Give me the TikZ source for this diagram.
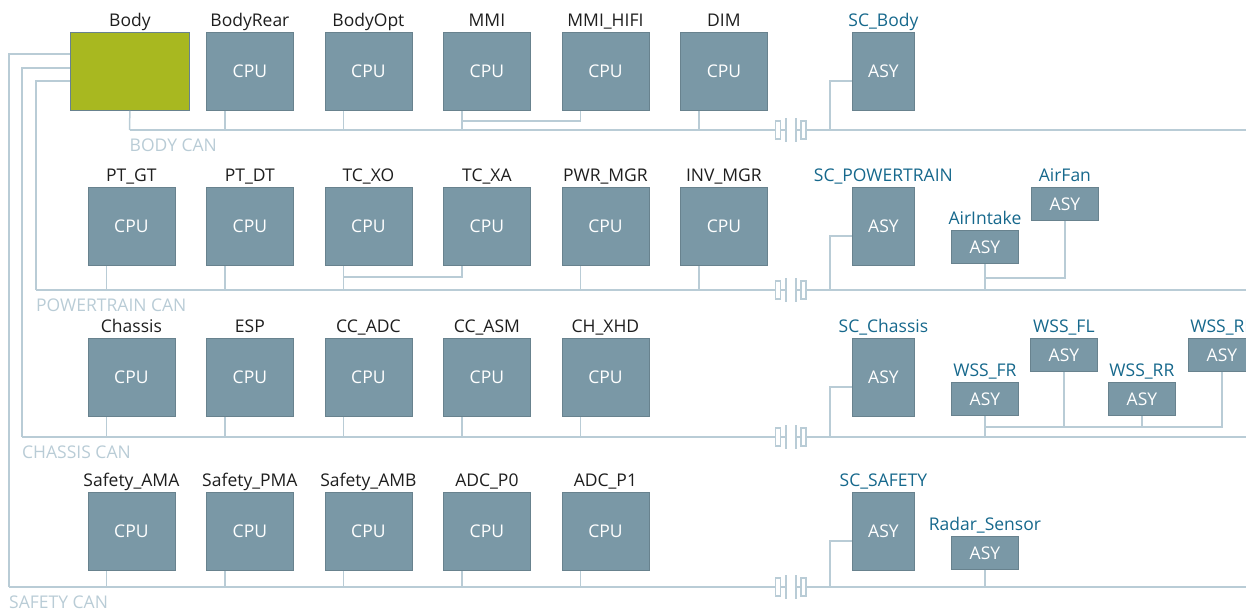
\documentclass[tikz,border=0pt]{standalone}
\usepackage{fontspec}
\setmainfont{Open Sans}
\usepackage{tikz}
\usetikzlibrary{positioning}
\definecolor{ecufill}{RGB}{122,152,166}
\definecolor{ecuedge}{RGB}{104,130,142}
\definecolor{masterfill}{RGB}{168,184,32}
\definecolor{canline}{RGB}{185,204,214}
\definecolor{sclabel}{RGB}{22,104,140}
\definecolor{ink}{RGB}{30,30,30}

\begin{document}
\begin{tikzpicture}[
  x=1pt, y=-1pt,
  font=\fontsize{17.5}{20}\selectfont,
  ecubox/.style={draw=ecuedge, fill=ecufill, text=white, line width=0.8pt, minimum width=87pt, minimum height=78pt, inner sep=0pt, anchor=north west},
  asybox/.style={ecubox, minimum width=62pt},
  sensorbox/.style={ecubox, minimum width=67pt, minimum height=33pt},
  ecuname/.style={text=ink, inner sep=0pt, text depth=0pt},
  scname/.style={ecuname, text=sclabel},
  wire/.style={draw=canline, line width=1.5pt},
  plug/.style={draw=canline, line width=1.2pt, fill=white, minimum width=5pt, minimum height=18pt, inner sep=0pt},
  canname/.style={text=canline, anchor=base west, inner sep=0pt},
  label distance=5pt
]
\path[use as bounding box, clip] (0,0) rectangle (1246,613);
% Row 1: body ECUs
\node[ecubox, fill=masterfill, minimum width=119pt, label={[ecuname]above:Body}] (body) at (70,32) {};
\foreach \lbl/\id [count=\c] in {BodyRear/bodyrear, BodyOpt/bodyopt, MMI/mmi, MMI\_HIFI/mmihifi, DIM/dim} {
  \node[ecubox, label={[ecuname]above:\lbl}] (\id) at (87.5+\c*118.5,32) {CPU};
}
\node[asybox, label={[scname]above:SC\_Body}] (scbody) at (852,32) {ASY};
% Row 2: powertrain ECUs
\foreach \lbl/\id [count=\c] in {PT\_GT/ptgt, PT\_DT/ptdt, TC\_XO/tcxo, TC\_XA/tcxa, PWR\_MGR/pwrmgr, INV\_MGR/invmgr} {
  \node[ecubox, label={[ecuname]above:\lbl}] (\id) at (-31+\c*118.5,187) {CPU};
}
\node[asybox, label={[scname]above:SC\_POWERTRAIN}] (scpt) at (852,187) {ASY};
\node[sensorbox, label={[scname]above:AirIntake}] (airintake) at (951,230) {ASY};
\node[sensorbox, label={[scname]above:AirFan}] (airfan) at (1031,187) {ASY};
% Row 3: chassis ECUs
\foreach \lbl/\id [count=\c] in {Chassis/chassis, ESP/esp, CC\_ADC/ccadc, CC\_ASM/ccasm, CH\_XHD/chxhd} {
  \node[ecubox, label={[ecuname]above:\lbl}] (\id) at (-31+\c*118.5,338) {CPU};
}
\node[asybox, label={[scname]above:SC\_Chassis}] (scch) at (852,338) {ASY};
\node[sensorbox, label={[scname]above:WSS\_FR}] (wssfr) at (951,382) {ASY};
\node[sensorbox, label={[scname]above:WSS\_FL}] (wssfl) at (1030,338) {ASY};
\node[sensorbox, label={[scname]above:WSS\_RR}] (wssrr) at (1108,382) {ASY};
\node[sensorbox, label={[scname]above:WSS\_RL}] (wssrl) at (1188,338) {ASY};
% Row 4: safety ECUs
\foreach \lbl/\id [count=\c] in {Safety\_AMA/sfama, Safety\_PMA/sfpma, Safety\_AMB/sfamb, ADC\_P0/adcp0, ADC\_P1/adcp1} {
  \node[ecubox, label={[ecuname]above:\lbl}] (\id) at (-31+\c*118.5,492) {CPU};
}
\node[asybox, label={[scname]above:SC\_SAFETY}] (scsf) at (852,492) {ASY};
\node[sensorbox, label={[scname]above:Radar\_Sensor}] (radar) at (951,536) {ASY};

% CAN buses with coupling
\foreach \bus/\xs/\y/\txt in {body/129.5/130/BODY CAN, pt/36/290/POWERTRAIN CAN, ch/22/437/CHASSIS CAN, sf/9/587/SAFETY CAN} {
  \coordinate (\bus can) at (\xs,\y);
  \coordinate (\bus gapl) at (786,\y);
  \coordinate (\bus gapr) at (796,\y);
  \coordinate (\bus end) at (1246,\y);
  \draw[wire] (\bus can) -- (\bus gapl) (\bus gapr) -- (\bus end);
  \draw[wire] ([yshift=12pt]\bus gapl) -- ([yshift=-12pt]\bus gapl);
  \draw[wire] ([yshift=12pt]\bus gapr) -- ([yshift=-12pt]\bus gapr);
  \node[plug] (\bus plugl) at ([xshift=-8pt]\bus gapl) {};
  \node[plug] (\bus plugr) at ([xshift=7.5pt]\bus gapr) {};
  \node[canname] (\bus label) at ([yshift=-21pt]\bus can) {\txt};
}

% Body gateway links
\draw[wire] (body.south) -- (bodycan);
\draw[wire] ([yshift=-22pt]body.north west) -| (sfcan);
\draw[wire] ([yshift=-36pt]body.north west) -| (chcan);
\draw[wire] ([yshift=-49pt]body.north west) -| (ptcan);

% Stubs to the buses
\foreach \id/\bus in {bodyrear/body, bodyopt/body, mmi/body, mmihifi/body, dim/body, ptgt/pt, ptdt/pt, tcxo/pt, tcxa/pt, pwrmgr/pt, invmgr/pt, chassis/ch, esp/ch, ccadc/ch, ccasm/ch, chxhd/ch, sfama/sf, sfpma/sf, sfamb/sf, adcp0/sf, adcp1/sf} {
  \coordinate (\id tap) at ([xshift=19pt]\id.south west);
}
\foreach \id/\bus in {bodyrear/body, bodyopt/body, mmi/body, dim/body, ptgt/pt, ptdt/pt, tcxo/pt, pwrmgr/pt, invmgr/pt, chassis/ch, esp/ch, ccadc/ch, ccasm/ch, chxhd/ch, sfama/sf, sfpma/sf, sfamb/sf, adcp0/sf, adcp1/sf} {
  \draw[wire] (\id tap) -- (\id tap |- \bus end);
}
\draw[wire] (mmihifitap) |- ([yshift=9pt]mmitap |- bodyend);
\draw[wire] (tcxatap) |- ([yshift=13pt]tcxotap |- ptend);
\foreach \id/\bus in {scbody/body, scpt/pt, scch/ch, scsf/sf} {
  \draw[wire] ([yshift=-49pt]\id.north west) -| ([xshift=-22pt]\id.west |- \bus end);
}

% Sensor links
\draw[wire] (airintake.south) -- (airintake.south |- ptend);
\draw[wire] (airfan.south) |- ([yshift=12pt]airintake.south |- ptend);
\draw[wire] (wssfr.south) -- (wssfr.south |- chend);
\coordinate (wsslink) at ([yshift=10pt]wssfr.south |- chend);
\draw[wire] (wssrl.south) |- (wsslink);
\foreach \id in {wssfl, wssrr} {\draw[wire] (\id.south) -- (\id.south |- wsslink);}
\draw[wire] (radar.south) -- (radar.south |- sfend);
\end{tikzpicture}
\end{document}
